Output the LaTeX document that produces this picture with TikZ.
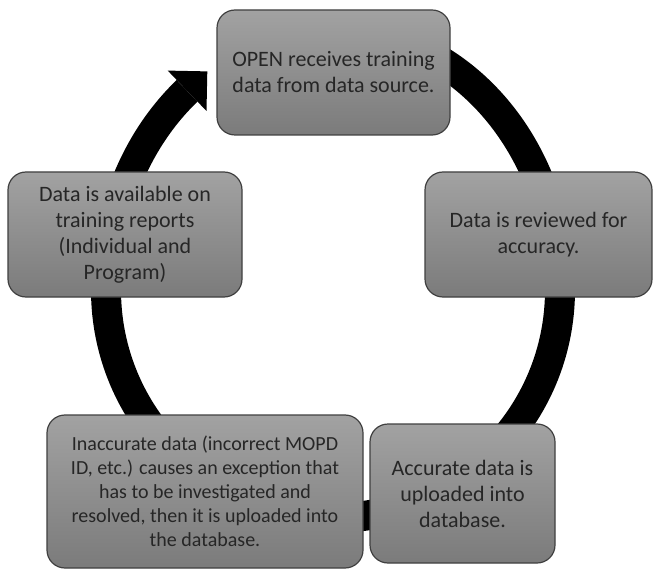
\documentclass[tikz,border=0pt]{standalone}
\usepackage{fontspec}
\setmainfont{Carlito}
\usetikzlibrary{calc}
\definecolor{boxtop}{HTML}{A2A2A2}
\definecolor{boxbot}{HTML}{7B7B7B}
\definecolor{boxline}{HTML}{404040}
\definecolor{boxtext}{HTML}{262626}
\begin{document}
\begin{tikzpicture}[x=1pt,y=1pt,
  stepbox/.style={draw=boxline, line width=1.2pt, rounded corners=18pt,
    top color=boxtop, bottom color=boxbot, align=center, inner sep=0pt,
    text=boxtext, font=\fontsize{22}{26}\selectfont},
  ring/.style={line width=30pt, draw=black}]
\useasboundingbox (0,0) rectangle (653,-569);
\fill[white] (0,0) rectangle (653,-569);

% cycle ring: taller upper half, flatter lower half
\coordinate (c) at (333,-290);
\draw[ring] ($(c)+(70:227 and 260)$)
  arc[start angle=70, end angle=0, x radius=227, y radius=260]
  arc[start angle=0, end angle=-180, x radius=227, y radius=228]
  arc[start angle=180, end angle=130, x radius=227, y radius=260];

% arrow head at the end of the ring
\coordinate (hout) at (167.7,-70.6);
\coordinate (htip) at (207.3,-71.4);
\coordinate (hin)  at (206.5,-111.0);
\fill[black] (hout) -- (htip) -- (hin) -- cycle;

% process steps
\node[stepbox, minimum width=233pt, minimum height=125pt] (receive) at (333.5,-72.5)
  {OPEN receives training\\data from data source.};
\node[stepbox, minimum width=227pt, minimum height=125pt] (review) at (538.5,-234.5)
  {Data is reviewed for\\accuracy.};
\node[stepbox, minimum width=185pt, minimum height=139pt] (upload) at (462.5,-493.5)
  {Accurate data is\\uploaded into\\database.};
\node[stepbox, minimum width=316pt, minimum height=153pt,
  font=\fontsize{20}{24}\selectfont] (except) at (205,-491.5)
  {Inaccurate data (incorrect MOPD\\ID, etc.) causes an exception that\\has to be investigated and\\resolved, then it is uploaded into\\the database.};
\node[stepbox, minimum width=234pt, minimum height=125pt] (report) at (125,-234.5)
  {Data is available on\\training reports\\(Individual and\\Program)};
\end{tikzpicture}
\end{document}
